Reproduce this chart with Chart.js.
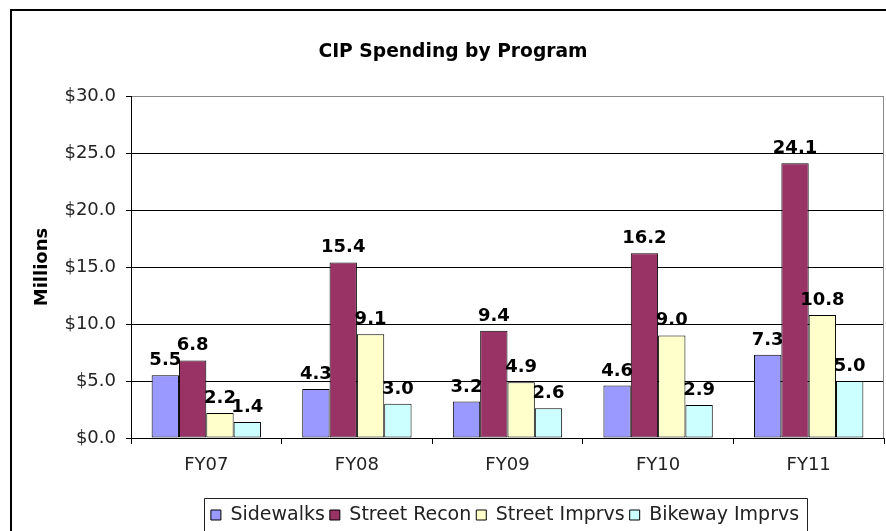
<!DOCTYPE html>
<html>
<head>
<meta charset="utf-8">
<script src="https://cdn.jsdelivr.net/npm/chart.js@4.4.1/dist/chart.umd.min.js"></script>
<style>
  html, body { margin: 0; padding: 0; background: #fff; overflow: hidden; width: 886px; height: 531px; }
  #frame { position: absolute; left: 10px; top: 9px; width: 1000px; height: 1000px; border: 2px solid #000; box-sizing: border-box; }
  #wrap { position: absolute; left: 0; top: 0; width: 886px; height: 560px; }
</style>
</head>
<body>
<div id="frame"></div>
<div id="wrap"><canvas id="c" width="886" height="560"></canvas></div>
<script>
const categories = ['FY07', 'FY08', 'FY09', 'FY10', 'FY11'];
const sidewalks = [5.5, 4.3, 3.2, 4.6, 7.3];
const streetRecon = [6.8, 15.4, 9.4, 16.2, 24.1];
const streetImprvs = [2.2, 9.1, 4.9, 9.0, 10.8];
const bikewayImprvs = [1.4, 3.0, 2.6, 2.9, 5.0];
const seriesNames = ['Sidewalks', 'Street Recon', 'Street Imprvs', 'Bikeway Imprvs'];
const seriesColors = ['#9999FF', '#993366', '#FFFFCC', '#CCFFFF'];
const yTicks = [0, 5, 10, 15, 20, 25, 30];

const FONT = 'DejaVu Sans';
const seriesValues = [sidewalks, streetRecon, streetImprvs, bikewayImprvs];

const dataLabels = {
  id: 'dataLabels',
  afterDatasetsDraw(chart) {
    const ctx = chart.ctx;
    ctx.save();
    ctx.font = 'bold 18px "' + FONT + '"';
    ctx.fillStyle = '#000';
    ctx.textAlign = 'center';
    ctx.textBaseline = 'alphabetic';
    chart.data.datasets.forEach((ds, i) => {
      const meta = chart.getDatasetMeta(i);
      meta.data.forEach((bar, j) => {
        ctx.fillText(Number(ds.data[j]).toFixed(1), bar.x, bar.y - 10);
      });
    });
    ctx.restore();
  }
};

const frameLines = {
  id: 'frameLines',
  afterLayout(chart) {
    const lg = chart.legend;
    if (lg) { lg.left += 63; lg.right += 63; }
    const tb = chart.titleBlock;
    if (tb) { tb.left += 11; tb.right += 11; }
  },
  beforeDatasetsDraw(chart) {
    const {ctx, chartArea} = chart;
    ctx.save();
    ctx.strokeStyle = '#888';
    ctx.lineWidth = 1;
    ctx.beginPath();
    const x = Math.round(chartArea.right) - 0.5;
    ctx.moveTo(x, chartArea.top);
    ctx.lineTo(x, chartArea.bottom);
    ctx.stroke();
    ctx.restore();
  },
  afterDraw(chart) {
    const lg = chart.legend;
    if (!lg || !lg.legendHitBoxes || !lg.legendHitBoxes.length) return;
    const hb = lg.legendHitBoxes;
    let minX = Infinity, maxX = -Infinity, top = Infinity;
    hb.forEach(b => { minX = Math.min(minX, b.left); maxX = Math.max(maxX, b.left + b.width); top = Math.min(top, b.top); });
    const ctx = chart.ctx;
    ctx.save();
    ctx.strokeStyle = '#222';
    ctx.lineWidth = 1;
    const l = Math.round(minX - 7) + 0.5;
    const r = Math.round(maxX + 8) + 0.5;
    const t = Math.round(top + 9.5 - 17) + 0.5;
    ctx.beginPath();
    ctx.moveTo(l, 600);
    ctx.lineTo(l, t);
    ctx.lineTo(r, t);
    ctx.lineTo(r, 600);
    ctx.stroke();
    ctx.restore();
  }
};

new Chart(document.getElementById('c'), {
  type: 'bar',
  data: {
    labels: categories,
    datasets: seriesNames.map((name, i) => ({
      label: name,
      data: seriesValues[i],
      backgroundColor: seriesColors[i],
      borderColor: '#000',
      borderWidth: 1,
      borderSkipped: false,
      categoryPercentage: 0.726,
      barPercentage: 1.0
    }))
  },
  options: {
    responsive: false,
    animation: false,
    devicePixelRatio: 1,
    layout: { padding: { left: 0, right: 2, top: 0, bottom: 25.5 } },
    plugins: {
      title: {
        display: true,
        text: 'CIP Spending by Program',
        color: '#000',
        font: { family: FONT, size: 18.7, weight: 'bold' },
        padding: { top: 40.5, bottom: 33.1 }
      },
      legend: {
        position: 'bottom',
        labels: {
          boxWidth: 10,
          boxHeight: 10,
          padding: 5,
          color: '#222',
          font: { family: FONT, size: 19 }
        }
      },
      tooltip: { enabled: false }
    },
    scales: {
      x: {
        grid: { display: true, drawOnChartArea: false, drawTicks: true, tickLength: 6, color: '#000', offset: true },
        border: { display: true, color: '#000', width: 1 },
        ticks: { color: '#222', padding: 11, font: { family: FONT, size: 18 } },
        afterFit(scale) { scale.height = 62.5; }
      },
      y: {
        min: 0,
        max: 30,
        afterBuildTicks(scale) { scale.ticks = yTicks.map(v => ({ value: v })); },
        grid: {
          color: (c) => (c.tick && c.tick.value === 30 ? '#888' : '#000'),
          tickColor: '#000',
          tickLength: 5,
          drawTicks: true
        },
        border: { display: true, color: '#000', width: 1 },
        ticks: {
          color: '#222',
          padding: 10,
          font: { family: FONT, size: 18 },
          callback: (v) => '$' + Number(v).toFixed(1)
        },
        title: {
          display: true,
          text: 'Millions',
          color: '#000',
          font: { family: FONT, size: 18, weight: 'bold' },
          padding: { top: 32, bottom: 0 }
        },
        afterFit(scale) { scale.width = 131; }
      }
    }
  },
  plugins: [dataLabels, frameLines]
});
</script>
</body>
</html>
